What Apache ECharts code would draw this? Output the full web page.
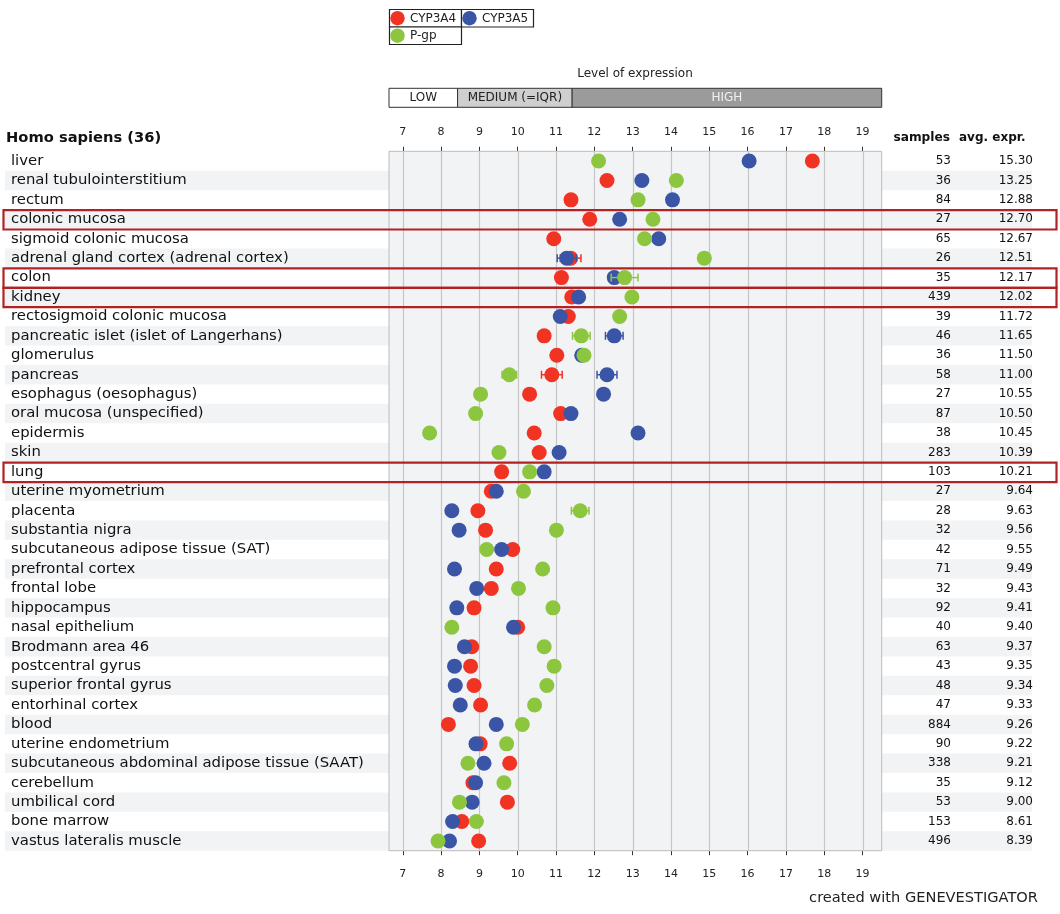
<!DOCTYPE html>
<html><head><meta charset="utf-8">
<script src="https://cdn.jsdelivr.net/npm/echarts@6/dist/echarts.min.js"></script>
<style>html,body{margin:0;padding:0;background:#fff}#c{width:1060px;height:914px}</style>
</head><body><div id="c"></div>
<script>
// ---------------- DATA ----------------
const categories = ['liver','renal tubulointerstitium','rectum','colonic mucosa','sigmoid colonic mucosa',
  'adrenal gland cortex (adrenal cortex)','colon','kidney','rectosigmoid colonic mucosa',
  'pancreatic islet (islet of Langerhans)','glomerulus','pancreas','esophagus (oesophagus)',
  'oral mucosa (unspecified)','epidermis','skin','lung','uterine myometrium','placenta',
  'substantia nigra','subcutaneous adipose tissue (SAT)','prefrontal cortex','frontal lobe',
  'hippocampus','nasal epithelium','Brodmann area 46','postcentral gyrus','superior frontal gyrus',
  'entorhinal cortex','blood','uterine endometrium','subcutaneous abdominal adipose tissue (SAAT)',
  'cerebellum','umbilical cord','bone marrow','vastus lateralis muscle'];
const samples = [53,36,84,27,65,26,35,439,39,46,36,58,27,87,38,283,103,27,28,32,42,71,32,92,40,63,43,48,47,884,90,338,35,53,153,496];
const avgExpr = ['15.30','13.25','12.88','12.70','12.67','12.51','12.17','12.02','11.72','11.65','11.50','11.00','10.55','10.50','10.45','10.39','10.21','9.64','9.63','9.56','9.55','9.49','9.43','9.41','9.40','9.37','9.35','9.34','9.33','9.26','9.22','9.21','9.12','9.00','8.61','8.39'];
const seriesNames = ['CYP3A4','CYP3A5','P-gp'];
const cyp3a4 = [17.69,12.33,11.39,11.88,10.94,11.38,11.14,11.41,11.32,10.69,11.02,10.89,10.31,11.12,10.43,10.56,9.58,9.31,8.96,9.16,9.87,9.44,9.31,8.86,10.00,8.80,8.77,8.86,9.03,8.19,9.02,9.79,8.83,9.73,8.54,8.98];
const cyp3a5 = [16.04,13.24,14.04,12.66,13.68,11.28,12.52,11.59,11.11,12.52,11.67,12.33,12.24,11.39,13.14,11.08,10.69,9.44,8.28,8.47,9.58,8.35,8.93,8.41,9.89,8.61,8.35,8.37,8.50,9.44,8.91,9.12,8.90,8.81,8.30,8.22];
const pgp    = [12.11,14.14,13.14,13.53,13.31,14.87,12.79,12.98,12.66,11.66,11.73,9.78,9.03,8.90,7.70,9.51,10.31,10.15,11.63,11.01,9.19,10.65,10.02,10.92,8.28,10.69,10.95,10.76,10.44,10.12,9.71,8.70,9.64,8.48,8.92,7.92];
// error half-widths: [row index, half width]
const errCyp3a4 = [[5,0.27],[11,0.27]];
const errCyp3a5 = [[5,0.25],[6,0.15],[9,0.23],[11,0.26]];
const errPgp    = [[5,0.15],[6,0.35],[9,0.23],[11,0.19],[18,0.23]];
const xTicks = [7,8,9,10,11,12,13,14,15,16,17,18,19];
const levelBreaks = [8.43, 11.42];
const levelNames = ['LOW','MEDIUM (=IQR)','HIGH'];
const highlighted = ['colonic mucosa','colon','kidney','lung'];
const title = 'Homo sapiens (36)';

// ---------------- STYLE / LAYOUT ----------------
const X_MIN = 6.64, X_MAX = 19.5;
const colors = ['#f03323','#3a55a6','#8cc63f'];
const FF = '"DejaVu Sans", sans-serif';
const PL = 389, PT = 151.3, PW = 492.7, PH = 699.4;

const chart = echarts.init(document.getElementById('c'), null, {renderer:'canvas'});

function errItem(color){
  return function(params, api){
    const v = api.value(0), row = api.value(1), e = api.value(2);
    const a = api.coord([v - e, row]), b = api.coord([v + e, row]);
    const h = 4;
    const style = {stroke: color, lineWidth: 1.5, fill: null};
    return {type:'group', children:[
      {type:'line', shape:{x1:a[0],y1:a[1],x2:b[0],y2:b[1]}, style},
      {type:'line', shape:{x1:a[0],y1:a[1]-h,x2:a[0],y2:a[1]+h}, style},
      {type:'line', shape:{x1:b[0],y1:b[1]-h,x2:b[0],y2:b[1]+h}, style}
    ]};
  };
}
const valueSets = [cyp3a4, cyp3a5, pgp];
const errSets = [errCyp3a4, errCyp3a5, errPgp];

const levelSegs = [[X_MIN, levelBreaks[0], 0],[levelBreaks[0], levelBreaks[1], 1],[levelBreaks[1], X_MAX, 2]];
const levelFill = ['#ffffff','#cfcfcf','#9b9b9b'];
const levelText = ['#222','#222','#f0f0f0'];

const series = [];
// vertical grid lines
series.push({
  type:'custom', xAxisIndex:0, yAxisIndex:0, silent:true, z:1,
  data: xTicks.map(v=>[v,0]),
  renderItem(params, api){
    const cs = params.coordSys;
    const x = Math.round(api.coord([api.value(0),0])[0]) + 0.5;
    return {type:'line', shape:{x1:x,y1:cs.y,x2:x,y2:cs.y+cs.height}, style:{stroke:'#c6c6c6', lineWidth:1.2}};
  }
});
valueSets.forEach((vals, k)=>{
  series.push({
    type:'custom', name: seriesNames[k]+' err', xAxisIndex:0, yAxisIndex:0, silent:true, z:2+k*2,
    data: errSets[k].map(([r,e])=>[vals[r], r, e]),
    renderItem: errItem(colors[k])
  });
  series.push({
    type:'scatter', name: seriesNames[k], xAxisIndex:0, yAxisIndex:0, z:3+k*2,
    symbolSize:15, itemStyle:{color:colors[k], opacity:1},
    data: vals.map((v,i)=>[v,i])
  });
});
// level bar
series.push({
  type:'custom', xAxisIndex:3, yAxisIndex:4, silent:true, z:2,
  data: levelSegs,
  renderItem(params, api){
    const cs = params.coordSys;
    const i = api.value(2);
    const x0 = api.coord([api.value(0),0])[0], x1 = api.coord([api.value(1),0])[0];
    return {type:'group', children:[
      {type:'rect', shape:{x:x0, y:cs.y, width:x1-x0, height:cs.height},
        style:{fill:levelFill[i], stroke:'#333', lineWidth:1}},
      {type:'text', style:{text:levelNames[i], x:(x0+x1)/2, y:cs.y+cs.height/2+0.5,
        textAlign:'center', textVerticalAlign:'middle', font:'12px '+FF, fill:levelText[i]}}
    ]};
  }
});
// highlight boxes
series.push({
  type:'custom', xAxisIndex:2, yAxisIndex:1, silent:true, z:20, clip:false,
  data: highlighted.map(n=>[0, categories.indexOf(n)]),
  renderItem(params, api){
    const p = api.coord([0, api.value(1)]);
    const h = api.size([0,1])[1];
    return {type:'rect', shape:{x:3.5, y:p[1]-h/2+0.5, width:1053, height:h},
      style:{fill:null, stroke:'#b22222', lineWidth:2.2}};
  }
});

// legend as graphics
const legendPos = [[389,9],[461,9],[389,26.5]];
const graphic = [];
seriesNames.forEach((n,k)=>{
  const [x,y] = legendPos[k];
  graphic.push({type:'rect', shape:{x:x+0.5,y:y+0.5,width:72,height:17.5}, style:{fill:'#fff', stroke:'#222', lineWidth:1.2}});
  graphic.push({type:'circle', shape:{cx:x+8.5, cy:y+9.2, r:7.2}, style:{fill:colors[k]}});
  graphic.push({type:'text', style:{text:n, x:x+21, y:y+9.5, textVerticalAlign:'middle', font:'12px '+FF, fill:'#222'}});
});
graphic.push({type:'text', style:{text:'Level of expression', x:635, y:74, textAlign:'center', textVerticalAlign:'middle', font:'12px '+FF, fill:'#222'}});
graphic.push({type:'text', style:{text:title, x:6, y:138, textVerticalAlign:'middle', font:'bold 14.7px '+FF, fill:'#111'}});
graphic.push({type:'text', style:{text:'samples', x:950, y:138, textAlign:'right', textVerticalAlign:'middle', font:'bold 12.2px '+FF, fill:'#111'}});
graphic.push({type:'text', style:{text:'avg. expr.', x:959, y:138, textVerticalAlign:'middle', font:'bold 12px '+FF, fill:'#111'}});
graphic.push({type:'text', style:{text:'created with GENEVESTIGATOR', x:1038, y:898, textAlign:'right', textVerticalAlign:'middle', font:'14.6px '+FF, fill:'#222'}});

const tickAxis = (pos)=>({
  type:'value', gridIndex:0, position:pos, min:X_MIN, max:X_MAX,
  axisLine:{show:false}, splitLine:{show:false},
  axisTick:{show:true, customValues:xTicks, length:4.5, lineStyle:{color:'#333', width:1}},
  axisLabel:{show:true, customValues:xTicks, margin: pos==='top'?14:18, fontSize:11, fontFamily:FF, color:'#222'}
});

chart.setOption({
  animation:false,
  backgroundColor:'#fff',
  grid:[
    {left:PL, top:PT, width:PW, height:PH, show:true, backgroundColor:'#f2f3f5', borderColor:'#bcbcbc', borderWidth:1, z:1},
    {left:5, top:PT, width:1027, height:PH, z:0},
    {left:PL, top:88.3, width:PW, height:19}
  ],
  xAxis:[
    tickAxis('top'),
    tickAxis('bottom'),
    {type:'value', gridIndex:1, min:0, max:1, show:false},
    {type:'value', gridIndex:2, min:X_MIN, max:X_MAX, show:false}
  ],
  yAxis:[
    {type:'category', gridIndex:0, data:categories, inverse:true,
      axisLine:{show:false}, axisTick:{show:false}, splitLine:{show:false},
      axisLabel:{align:'left', margin:PL-11, fontSize:14.85, fontFamily:FF, color:'#111', interval:0}},
    {type:'category', gridIndex:1, data:categories, inverse:true, z:-1,
      axisLine:{show:false}, axisTick:{show:false}, axisLabel:{show:false}, splitLine:{show:false},
      splitArea:{show:true, interval:0, areaStyle:{color:['rgba(255,255,255,0)','#f2f3f5']}}},
    {type:'category', gridIndex:1, data:categories, inverse:true, position:'right',
      axisLine:{show:false}, axisTick:{show:false}, splitLine:{show:false},
      axisLabel:{inside:true, margin:81, interval:0, fontSize:12, fontFamily:FF, color:'#111',
        formatter:(v,i)=>String(samples[i])}},
    {type:'category', gridIndex:1, data:categories, inverse:true, position:'right',
      axisLine:{show:false}, axisTick:{show:false}, splitLine:{show:false},
      axisLabel:{inside:true, margin:-1, interval:0, fontSize:12, fontFamily:FF, color:'#111',
        formatter:(v,i)=>avgExpr[i]}},
    {type:'value', gridIndex:2, min:0, max:1, show:false}
  ],
  graphic: graphic,
  series: series
});
</script>
</body></html>
